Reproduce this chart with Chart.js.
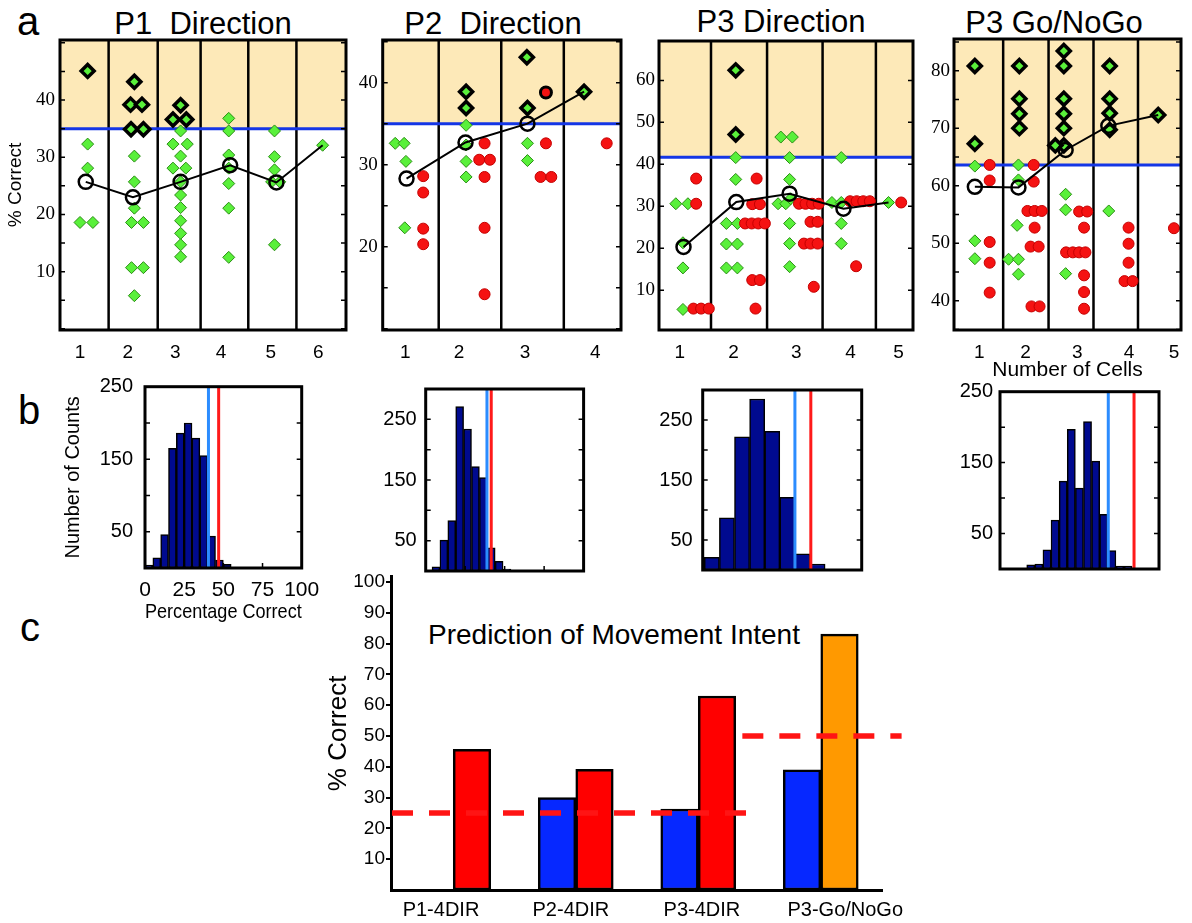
<!DOCTYPE html>
<html>
<head>
<meta charset="utf-8">
<title>Prediction of movement intent</title>
<script src="https://cdn.jsdelivr.net/npm/chart.js@4.4.1/dist/chart.umd.min.js"></script>
<style>
  html, body { margin: 0; padding: 0; background: #fff; }
  body { position: relative; width: 1192px; height: 923px; overflow: hidden;
         font-family: "Liberation Sans", Arial, Helvetica, sans-serif; color: #000; }
  canvas { position: absolute; }
  .txt { position: absolute; line-height: 1; white-space: pre; }
  .mid { transform: translateX(-50%); }
</style>
</head>
<body>
<div class="txt" style="left:17px;top:1px;font-size:40px">a</div>
<div class="txt" style="left:18px;top:390px;font-size:40px">b</div>
<div class="txt" style="left:20px;top:607px;font-size:40px">c</div>
<div class="txt mid" style="left:203px;top:8px;font-size:31px">P1  Direction</div>
<div class="txt mid" style="left:493px;top:8px;font-size:31px">P2  Direction</div>
<div class="txt mid" style="left:781px;top:6px;font-size:31px">P3 Direction</div>
<div class="txt mid" style="left:1054px;top:7px;font-size:31px">P3 Go/NoGo</div>
<div class="txt" style="left:428px;top:621px;font-size:28px">Prediction of Movement Intent</div>

<canvas id="p1"></canvas>
<canvas id="p2"></canvas>
<canvas id="p3"></canvas>
<canvas id="pg"></canvas>
<canvas id="h1"></canvas>
<canvas id="h2"></canvas>
<canvas id="h3"></canvas>
<canvas id="h4"></canvas>
<canvas id="pc"></canvas>

<script>
// ---- a: % correct vs number of cells, [x, y] per cell set ----
const p1Cells = ['1', '2', '3', '4', '5', '6'];
const p1CellPos = [0.92, 1.92, 2.92, 3.88, 4.92, 5.92];
const p1Dividers = [1.52, 2.55, 3.45, 4.45, 5.46];
const p1XRange = [0.5, 6.5];
const p1YRange = [-0.2, 50.5];
const p1YTicks = [10, 20, 30, 40];
const p1Threshold = 35;
const p1Sig = [[1.08, 45.1], [2.06, 43.2], [1.98, 39.2], [2.22, 39.2], [1.99, 34.9], [2.25, 34.9],
  [3.03, 39.1], [2.87, 36.6], [3.15, 36.6]];
const p1Green = [[1.08, 32.3], [1.08, 28.1], [0.92, 18.6], [1.19, 18.6],
  [2.06, 30.2], [2.06, 25.7], [2.06, 21.1], [2.0, 18.6], [2.25, 18.6], [2.0, 10.7], [2.25, 10.7], [2.06, 5.8],
  [3.03, 34.6], [2.87, 32.3], [3.17, 32.3], [3.03, 30.2], [2.87, 28.1], [3.14, 28.1], [3.03, 25.7],
  [3.03, 23.4], [3.03, 21.2], [3.03, 18.9], [3.03, 16.7], [3.03, 14.7], [3.03, 12.6],
  [4.04, 36.8], [4.04, 34.6], [4.04, 30.4], [4.04, 28.1], [4.04, 25.4], [4.04, 21.1], [4.04, 12.5],
  [5.0, 34.6], [5.0, 30.1], [5.0, 27.8], [4.94, 25.7], [5.11, 25.7], [5.0, 14.7],
  [6.01, 32.1]];
const p1Red = [];
const p1RedSig = [];
const p1Mean = [[1.04, 25.7], [2.03, 23.0], [3.03, 25.7], [4.07, 28.6], [5.04, 25.6], [6.01, 32.1]];

const p2Cells = ['1', '2', '3', '4'];
const p2CellPos = [0.88, 1.78, 2.89, 4.07];
const p2Dividers = [1.44, 2.49, 3.54];
const p2XRange = [0.5, 4.5];
const p2YRange = [9.84, 45.2];
const p2YTicks = [20, 30, 40];
const p2Threshold = 35;
const p2Sig = [[1.9, 38.9], [1.9, 36.9], [2.92, 43.1], [2.93, 36.9], [3.88, 38.9]];
const p2Green = [[0.71, 32.6], [0.86, 32.6], [0.89, 30.4], [0.87, 22.3],
  [1.9, 34.8], [1.9, 32.4], [1.9, 30.4], [1.9, 28.5], [2.93, 32.6], [2.93, 30.5]];
const p2Red = [[1.18, 28.6], [1.18, 26.6], [1.18, 22.2], [1.18, 20.3],
  [2.21, 32.6], [2.12, 30.6], [2.3, 30.6], [2.21, 28.5], [2.21, 22.3], [2.21, 14.2],
  [3.24, 32.6], [3.15, 28.5], [3.33, 28.5], [4.26, 32.6]];
const p2RedSig = [[3.24, 38.8]];
const p2Mean = [[0.9, 28.3], [1.89, 32.7], [2.93, 35.0], [3.88, 38.9]];

const p3Cells = ['1', '2', '3', '4', '5'];
const p3CellPos = [0.93, 1.91, 3.05, 4.04, 4.91];
const p3Dividers = [1.5, 2.52, 3.53, 4.5];
const p3XRange = [0.554, 5.175];
const p3YRange = [0.5, 69.4];
const p3YTicks = [10, 20, 30, 40, 50, 60];
const p3Threshold = 41.7;
const p3Sig = [[1.95, 62.4], [1.95, 47.1]];
const p3Green = [[0.86, 30.6], [1.08, 30.6], [0.99, 21.3], [0.99, 15.3], [0.99, 5.4],
  [1.95, 41.6], [1.95, 36.4], [1.78, 25.9], [1.98, 25.9], [1.78, 21.0], [1.98, 21.0], [1.78, 15.3], [1.98, 15.3],
  [2.77, 46.5], [2.98, 46.5], [2.93, 41.6], [2.93, 36.4], [2.72, 30.6], [2.86, 30.6], [2.95, 31.8],
  [2.93, 25.9], [2.93, 21.1], [2.93, 15.6],
  [3.87, 41.6], [3.7, 30.9], [3.87, 30.9], [3.87, 25.9], [3.87, 21.1],
  [4.73, 30.9]];
const p3Red = [[1.23, 36.6], [1.23, 30.6], [1.18, 5.6], [1.32, 5.6], [1.46, 5.6],
  [2.33, 36.6], [2.25, 30.5], [2.39, 30.5], [2.12, 25.9], [2.24, 25.9], [2.36, 25.9], [2.48, 25.9],
  [2.25, 12.4], [2.39, 12.4], [2.31, 5.6],
  [3.1, 30.6], [3.22, 30.6], [3.34, 30.6], [3.46, 30.6], [3.31, 26.3], [3.44, 26.3],
  [3.19, 21.1], [3.31, 21.1], [3.44, 21.1], [3.37, 10.8],
  [4.03, 31.2], [4.15, 31.2], [4.27, 31.2], [4.39, 31.2], [4.14, 15.7],
  [4.96, 30.9]];
const p3RedSig = [];
const p3Mean = [[1.0, 20.3], [1.96, 31.0], [2.93, 33.0], [3.91, 29.4], [4.73, 30.9]];

const pgCells = ['1', '2', '3', '4', '5'];
const pgCellPos = [0.97, 2.0, 3.15, 4.3, 5.3];
const pgDividers = [1.5, 2.51, 3.51, 4.5];
const pgXRange = [0.406, 5.457];
const pgYRange = [34.9, 85.5];
const pgYTicks = [40, 50, 60, 70, 80];
const pgThreshold = 63.6;
const pgSig = [[0.87, 80.8], [0.87, 67.3],
  [1.86, 80.8], [1.86, 75.1], [1.86, 72.5], [1.86, 70.0],
  [2.85, 83.4], [2.85, 80.8], [2.85, 75.1], [2.85, 72.5], [2.85, 70.0], [2.85, 67.0], [2.66, 67.0],
  [3.87, 80.8], [3.87, 75.1], [3.87, 72.6], [3.87, 69.7],
  [4.95, 72.3]];
const pgGreen = [[0.87, 63.4], [0.87, 50.4], [0.87, 47.3],
  [1.84, 63.6], [1.84, 61.0], [1.81, 53.1], [1.62, 47.2], [1.84, 47.2], [1.84, 44.6],
  [2.89, 58.5], [2.89, 55.8], [2.89, 44.7],
  [3.85, 55.6]];
const pgRed = [[1.2, 63.6], [1.2, 60.9], [1.2, 50.2], [1.2, 46.6], [1.2, 41.4],
  [2.18, 63.6], [2.18, 60.7], [2.04, 55.6], [2.2, 55.6], [2.36, 55.6], [2.2, 52.7], [2.11, 49.4], [2.29, 49.4],
  [2.13, 39.0], [2.31, 39.0],
  [3.19, 55.5], [3.37, 55.5], [3.3, 52.7], [2.9, 48.4], [3.05, 48.4], [3.19, 48.4], [3.33, 48.4],
  [3.3, 44.4], [3.3, 41.5], [3.3, 38.6],
  [4.29, 52.7], [4.29, 49.9], [4.29, 46.6], [4.2, 43.4], [4.38, 43.4],
  [5.3, 52.6]];
const pgRedSig = [];
const pgMean = [[0.87, 59.8], [1.84, 59.7], [2.89, 66.2], [3.84, 70.4], [4.95, 72.3]];

// ---- b: shuffled-label histograms (bin centre in %, counts) ----
const h1Bins = [2.5, 7.5, 12.5, 17.5, 22.5, 27.5, 32.5, 37.5, 42.5, 47.5, 52.5];
const h1Counts = [4, 14, 46, 165, 186, 200, 179, 155, 44, 11, 5];
const h1Blue = 40.5, h1Red = 47;
const h2Bins = [6.5, 11.5, 16.5, 21.5, 26.5, 31.5, 36.5, 41.5, 46.5, 51.5];
const h2Counts = [7, 51, 83, 271, 234, 172, 154, 38, 16, 3];
const h2Blue = 38.8, h2Red = 41.5;
const h3Bins = [5.75, 15.25, 24.75, 34.25, 43.75, 53.25, 62.75, 72.25];
const h3Counts = [21, 87, 222, 285, 231, 121, 27, 10];
const h3Blue = 58, h3Red = 68;
const h4Bins = [19.35, 24.45, 29.55, 34.65, 39.75, 44.85, 49.95, 55.05, 60.15, 65.25, 70.35, 75.45, 80.55];
const h4Counts = [6, 7, 27, 69, 124, 197, 114, 208, 152, 77, 26, 4, 4];
const h4Blue = 68.1, h4Red = 84.3;
const histXTicks = [0, 25, 50, 75, 100];
const histYTicks = [50, 150, 250];

// ---- c: prediction of movement intent ----
const cCategories = ['P1-4DIR', 'P2-4DIR', 'P3-4DIR', 'P3-Go/NoGo'];
const cLabelPos = [-0.1, 0.96, 2.03, 3.2];
const cBlue = [null, 30.0, 26.3, 39.0];
const cSecond = [45.7, 39.2, 63.0, 83.1];
const cYTicks = [10, 20, 30, 40, 50, 60, 70, 80, 90, 100];
const cChance4 = 25, cChance4Span = [-0.5, 2.44];
const cChance2 = 50, cChance2Span = [2.36, 3.66];

const SANS = '"Liberation Sans", Arial, Helvetica, sans-serif';
const SERIF = '"Liberation Serif", "Times New Roman", serif';
const BAND = '#fde9b8', THRESH = '#1436e6';
const GREEN = '#59f03a', GREEN_EDGE = '#2a8c14', RED = '#f51212';
const NAVY = '#000a8f';

Chart.defaults.font.family = SANS;
Chart.defaults.color = '#000';
Chart.defaults.animation = false;
Chart.defaults.events = [];
Chart.defaults.plugins.legend.display = false;
Chart.defaults.plugins.tooltip.enabled = false;

const xy = arr => arr.map(([x, y]) => ({x, y}));
const noGrid = {display: false, drawTicks: false};

// puts a canvas so that the chart area lands on L..R / T..B
function place(id, L, T, R, B, e) {
  const cl = Math.floor(L - e.yw - (e.ml || 0));
  const ct = Math.floor(T - (e.mt || 0));
  const cr = Math.ceil(R + (e.mr || 0));
  const cb = Math.ceil(B + e.xh + (e.mb || 0));
  const c = document.getElementById(id);
  c.width = cr - cl;
  c.height = cb - ct;
  Object.assign(c.style, {left: cl + 'px', top: ct + 'px', width: (cr - cl) + 'px', height: (cb - ct) + 'px'});
  return {canvas: c, padding: {left: L - e.yw - cl, top: T - ct, right: cr - R, bottom: cb - B - e.xh}};
}

// yellow band, column dividers, inside ticks and frame
const boxPlugin = {
  id: 'box',
  beforeDatasetsDraw(chart, args, o) {
    const {ctx, chartArea: a} = chart;
    const {x, y} = chart.scales;
    ctx.save();
    if (o.threshold != null) {
      ctx.fillStyle = BAND;
      ctx.fillRect(a.left, a.top, a.right - a.left, y.getPixelForValue(o.threshold) - a.top);
    }
    ctx.strokeStyle = '#000';
    ctx.lineWidth = 2.5;
    (o.dividers || []).forEach(v => {
      const px = x.getPixelForValue(v);
      ctx.beginPath(); ctx.moveTo(px, a.top); ctx.lineTo(px, a.bottom); ctx.stroke();
    });
    if (o.threshold != null) {
      const py = y.getPixelForValue(o.threshold);
      ctx.strokeStyle = THRESH;
      ctx.lineWidth = 3;
      ctx.beginPath(); ctx.moveTo(a.left, py); ctx.lineTo(a.right, py); ctx.stroke();
    }
    ctx.restore();
  },
  afterDatasetsDraw(chart, args, o) {
    const {ctx, chartArea: a} = chart;
    const {x, y} = chart.scales;
    ctx.save();
    ctx.strokeStyle = '#000';
    ctx.lineWidth = 1.5;
    if (o.minorStep) {
      for (let v = Math.ceil(y.min / o.minorStep) * o.minorStep; v < y.max; v += o.minorStep) {
        const py = y.getPixelForValue(v);
        ctx.beginPath();
        ctx.moveTo(a.left, py); ctx.lineTo(a.left + 5, py);
        ctx.moveTo(a.right - 5, py); ctx.lineTo(a.right, py);
        ctx.stroke();
      }
    }
    (o.xTicks || []).forEach(v => {
      const px = x.getPixelForValue(v);
      ctx.beginPath(); ctx.moveTo(px, a.bottom); ctx.lineTo(px, a.bottom - 5); ctx.stroke();
    });
    ctx.lineWidth = 3;
    ctx.strokeRect(a.left, a.top, a.right - a.left, a.bottom - a.top);
    ctx.restore();
  }
};

function cellPanel(id, g, d) {
  const {canvas, padding} = place(id, g.L, g.T, g.R, g.B, {yw: g.yw, xh: g.xh, mt: 12, mr: g.mr || 8, mb: 4});
  const n = d.mean.length;
  new Chart(canvas, {
    type: 'scatter',
    data: {
      datasets: [
        {data: xy(d.mean), showLine: true, borderColor: '#000', borderWidth: 2,
         pointRadius: c => (c.dataIndex < n - 1 ? 7 : 0), pointBorderWidth: 2.5,
         pointBorderColor: '#000', pointBackgroundColor: 'rgba(0,0,0,0)', order: 0},
        {data: xy(d.redSig), pointStyle: 'circle', pointRadius: 5.5, pointBackgroundColor: RED,
         pointBorderColor: '#000', pointBorderWidth: 3, order: 1},
        {data: xy(d.sig), pointStyle: 'rectRot', pointRadius: 6.5, pointBackgroundColor: GREEN,
         pointBorderColor: '#000', pointBorderWidth: 3.5, order: 1},
        {data: xy(d.red), pointStyle: 'circle', pointRadius: 5.5, pointBackgroundColor: RED,
         pointBorderColor: '#c40000', pointBorderWidth: 1, order: 2},
        {data: xy(d.green), pointStyle: 'rectRot', pointRadius: 6, pointBackgroundColor: GREEN,
         pointBorderColor: GREEN_EDGE, pointBorderWidth: 1, order: 3}
      ]
    },
    options: {
      responsive: false,
      devicePixelRatio: 1,
      layout: {padding},
      plugins: {box: {threshold: d.threshold, dividers: d.dividers, minorStep: d.minorStep}},
      scales: {
        x: {
          type: 'linear', min: d.xRange[0], max: d.xRange[1],
          grid: noGrid, border: {display: false},
          ticks: {font: {size: 19}, padding: 11, maxRotation: 0, autoSkip: false, callback: (v, i) => d.cells[i]},
          afterBuildTicks: s => { s.ticks = d.cellPos.map(value => ({value})); },
          afterFit: s => { s.height = g.xh; s.paddingLeft = 0; s.paddingRight = 0; },
          title: d.xTitle ? {display: true, text: d.xTitle, font: {size: 21}, padding: 0} : {display: false}
        },
        y: {
          type: 'linear', min: d.yRange[0], max: d.yRange[1],
          grid: noGrid, border: {display: false},
          ticks: {font: {family: SERIF, size: 19}, padding: g.yPad},
          afterBuildTicks: s => { s.ticks = d.yTicks.map(value => ({value})); },
          afterFit: s => { s.width = g.yw; s.paddingTop = 0; s.paddingBottom = 0; },
          title: d.yTitle ? {display: true, text: d.yTitle, font: {size: 19}, padding: 0} : {display: false}
        }
      }
    },
    plugins: [boxPlugin]
  });
}

function histPanel(id, g, d) {
  const {canvas, padding} = place(id, g.L, g.T, g.R, g.B, {yw: g.yw, xh: g.xh, mt: 14, mr: g.mr || 6, mb: g.mb || 0});
  const vline = (v, color) => ({type: 'line', data: [{x: v, y: 0}, {x: v, y: d.yMax}], borderColor: color,
    borderWidth: 3, pointRadius: 0, order: 0});
  new Chart(canvas, {
    type: 'bar',
    data: {
      datasets: [
        vline(d.blue, '#2b8cff'),
        vline(d.red, '#ff1a1a'),
        {data: d.bins.map((x, i) => ({x, y: d.counts[i]})), backgroundColor: NAVY, borderColor: '#000',
         borderWidth: 1.5, borderSkipped: false, barPercentage: 1, categoryPercentage: 1, order: 1}
      ]
    },
    options: {
      responsive: false,
      devicePixelRatio: 1,
      layout: {padding},
      plugins: {box: {minorStep: 50, xTicks: d.xMarks}},
      scales: {
        x: {
          type: 'linear', offset: false, min: 0, max: 100, display: !!d.xTicks,
          grid: noGrid, border: {display: false},
          ticks: {font: {size: 21}, padding: 9.4, maxRotation: 0, autoSkip: false},
          afterBuildTicks: s => { if (d.xTicks) s.ticks = d.xTicks.map(value => ({value})); },
          afterFit: s => { s.height = g.xh; s.paddingLeft = 0; s.paddingRight = 0; },
          title: d.xTitle ? {display: true, text: d.xTitle, font: {size: 21}, padding: 0} : {display: false}
        },
        y: {
          type: 'linear', min: 0, max: d.yMax,
          grid: noGrid, border: {display: false},
          ticks: {font: {size: 20}, padding: g.yPad},
          afterBuildTicks: s => { s.ticks = histYTicks.map(value => ({value})); },
          afterFit: s => { s.width = g.yw; s.paddingTop = 0; s.paddingBottom = 0; },
          title: d.yTitle ? {display: true, text: d.yTitle, font: {size: 20}, padding: 0} : {display: false}
        }
      }
    },
    plugins: [boxPlugin]
  });
}

cellPanel('p1', {L: 60, T: 40, R: 348, B: 330, yw: 56, xh: 40, yPad: 5}, {
  cells: p1Cells, cellPos: p1CellPos, dividers: p1Dividers, xRange: p1XRange, yRange: p1YRange,
  yTicks: p1YTicks, threshold: p1Threshold, minorStep: 5, yTitle: '% Correct',
  sig: p1Sig, green: p1Green, red: p1Red, redSig: p1RedSig, mean: p1Mean});
cellPanel('p2', {L: 382.7, T: 40, R: 622.7, B: 330, yw: 30, xh: 40, yPad: 5}, {
  cells: p2Cells, cellPos: p2CellPos, dividers: p2Dividers, xRange: p2XRange, yRange: p2YRange,
  yTicks: p2YTicks, threshold: p2Threshold, minorStep: 5,
  sig: p2Sig, green: p2Green, red: p2Red, redSig: p2RedSig, mean: p2Mean});
cellPanel('p3', {L: 659, T: 41, R: 915, B: 330, yw: 30, xh: 40, yPad: 4}, {
  cells: p3Cells, cellPos: p3CellPos, dividers: p3Dividers, xRange: p3XRange, yRange: p3YRange,
  yTicks: p3YTicks, threshold: p3Threshold, minorStep: 10,
  sig: p3Sig, green: p3Green, red: p3Red, redSig: p3RedSig, mean: p3Mean});
cellPanel('pg', {L: 954, T: 39, R: 1188, B: 330, yw: 30, xh: 53, yPad: 4, mr: 3}, {
  cells: pgCells, cellPos: pgCellPos, dividers: pgDividers, xRange: pgXRange, yRange: pgYRange,
  yTicks: pgYTicks, threshold: pgThreshold, minorStep: 5, xTitle: 'Number of Cells',
  sig: pgSig, green: pgGreen, red: pgRed, redSig: pgRedSig, mean: pgMean});

histPanel('h1', {L: 145, T: 386.7, R: 301.7, B: 568, yw: 84, xh: 56.6, yPad: 12, mr: 24}, {
  bins: h1Bins, counts: h1Counts, blue: h1Blue, red: h1Red, yMax: 250,
  xTicks: histXTicks, xMarks: [25, 50, 75], xTitle: 'Percentage Correct', yTitle: 'Number of Counts'});
histPanel('h2', {L: 425.7, T: 389, R: 583.6, B: 571, yw: 50, xh: 0, yPad: 9, mb: 4}, {
  bins: h2Bins, counts: h2Counts, blue: h2Blue, red: h2Red, yMax: 300, xMarks: [25, 50, 75]});
histPanel('h3', {L: 702.7, T: 390, R: 861.7, B: 570, yw: 50, xh: 0, yPad: 10, mb: 4}, {
  bins: h3Bins, counts: h3Counts, blue: h3Blue, red: h3Red, yMax: 300});
histPanel('h4', {L: 1000, T: 391.7, R: 1159, B: 569, yw: 50, xh: 0, yPad: 7, mb: 4}, {
  bins: h4Bins, counts: h4Counts, blue: h4Blue, red: h4Red, yMax: 250});

// ---- c ----
const cBox = place('pc', 392, 576.8, 882, 890, {yw: 68.6, xh: 32, mt: 12, mr: 28});
const dashLine = (span, v) => ({type: 'line', xAxisID: 'xd', data: [{x: span[0], y: v}, {x: span[1], y: v}],
  borderColor: '#ff1414', borderWidth: 5.5, borderDash: [21, 16], pointRadius: 0, clip: false, order: 0});
new Chart(cBox.canvas, {
  type: 'bar',
  data: {
    labels: cCategories,
    datasets: [
      dashLine(cChance4Span, cChance4),
      dashLine(cChance2Span, cChance2),
      {data: cBlue, xAxisID: 'x', backgroundColor: '#0628ff', borderColor: '#000', borderWidth: 2.5,
       borderSkipped: false, barThickness: 37.5, order: 1},
      {data: cSecond, xAxisID: 'x', backgroundColor: cSecond.map((v, i) => (i === 3 ? '#ff9900' : '#ff0000')),
       borderColor: '#000', borderWidth: 2.5, borderSkipped: false, barThickness: 37.5, order: 1}
    ]
  },
  options: {
    responsive: false,
    devicePixelRatio: 1,
    layout: {padding: cBox.padding},
    scales: {
      x: {type: 'category', display: false, offset: true},
      xd: {type: 'linear', display: false, offset: false, min: -0.5, max: 3.5},
      xl: {
        type: 'linear', position: 'bottom', offset: false, min: -0.5, max: 3.5,
        grid: noGrid, border: {display: true, color: '#000', width: 3},
        ticks: {font: {size: 20}, padding: 8, maxRotation: 0, autoSkip: false, callback: (v, i) => cCategories[i]},
        afterBuildTicks: s => { s.ticks = cLabelPos.map(value => ({value})); },
        afterFit: s => { s.height = 32; s.paddingLeft = 0; s.paddingRight = 0; }
      },
      y: {
        min: 0, max: 101.7,
        grid: {display: true, drawOnChartArea: false, drawTicks: true, tickLength: 6, color: '#000', lineWidth: 2},
        border: {display: true, color: '#000', width: 3},
        ticks: {font: {size: 19}, padding: 1},
        afterBuildTicks: s => { s.ticks = cYTicks.map(value => ({value})); },
        afterFit: s => { s.width = 68.6; s.paddingTop = 0; s.paddingBottom = 0; },
        title: {display: true, text: '% Correct', font: {size: 26}, padding: 0}
      }
    }
  }
});
</script>
</body>
</html>
